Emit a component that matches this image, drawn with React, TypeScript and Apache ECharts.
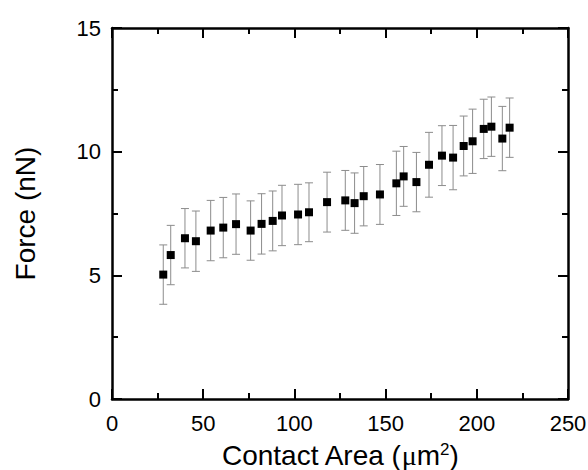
import React, { useEffect, useRef } from "react";
import * as echarts from "echarts";

const contactArea = [28.1, 32.2, 40.0, 46.0, 54.1, 61.0, 68.0, 76.0, 82.0, 88.1, 93.2, 102.0, 108.0, 117.9, 127.9, 133.0, 138.0, 146.9, 155.9, 159.9, 166.9, 173.8, 180.9, 187.0, 192.8, 197.7, 203.8, 208.0, 214.0, 218.0];
const force = [5.03, 5.82, 6.5, 6.38, 6.81, 6.93, 7.07, 6.81, 7.08, 7.2, 7.42, 7.46, 7.55, 7.96, 8.03, 7.92, 8.2, 8.27, 8.72, 9.0, 8.77, 9.47, 9.84, 9.76, 10.23, 10.42, 10.92, 11.01, 10.53, 10.97];
const forceError = [1.2, 1.2, 1.2, 1.22, 1.22, 1.22, 1.22, 1.2, 1.22, 1.21, 1.22, 1.22, 1.19, 1.21, 1.21, 1.22, 1.2, 1.21, 1.3, 1.21, 1.2, 1.31, 1.21, 1.3, 1.21, 1.3, 1.2, 1.2, 1.3, 1.2];

const FONT = "'Liberation Sans', Arial, sans-serif";

export default function App() {
  const ref = useRef<HTMLDivElement>(null);
  useEffect(() => {
    if (!ref.current) return;
    const chart = echarts.init(ref.current, null, { renderer: "svg" });
    const points = contactArea.map((x, i) => [x, force[i]]);
    const errData = contactArea.map((x, i) => [x, force[i], forceError[i]]);
    const axisLine = { show: true, onZero: false, lineStyle: { color: "#000", width: 2.5 } };
    const tick = { show: true, inside: true, length: 10, lineStyle: { color: "#000", width: 2 } };
    const minor = { show: true, splitNumber: 2, length: 6, lineStyle: { color: "#000", width: 2 } };
    chart.setOption({
      animation: false,
      backgroundColor: "#fff",
      grid: { left: 112, right: 20, top: 28, bottom: 71, containLabel: false, outerBoundsMode: "none" },
      xAxis: [
        {
          type: "value", min: 0, max: 250, interval: 50, position: "bottom",
          axisLine, axisTick: tick, minorTick: minor, splitLine: { show: false },
          axisLabel: { color: "#000", fontSize: 22, fontFamily: FONT, margin: 13 },
          name: "Contact Area ({mu|μ}m{sup|2})", nameLocation: "middle", nameGap: 42,
          nameTextStyle: {
            color: "#000", fontSize: 28, fontFamily: FONT, lineHeight: 28,
            rich: {
              mu: { color: "#000", fontSize: 28, lineHeight: 28, fontFamily: "'Liberation Serif', serif" },
              sup: { color: "#000", fontSize: 17, fontFamily: FONT, verticalAlign: "top", lineHeight: 15 },
            },
          },
        },
        {
          type: "value", min: 0, max: 250, interval: 50, position: "top",
          axisLine, axisTick: tick, minorTick: minor, splitLine: { show: false },
          axisLabel: { show: false },
        },
      ],
      yAxis: [
        {
          type: "value", min: 0, max: 15, interval: 5, position: "left",
          axisLine, axisTick: tick, minorTick: minor, splitLine: { show: false },
          axisLabel: { color: "#000", fontSize: 22, fontFamily: FONT, margin: 11 },
          name: "Force (nN)", nameLocation: "middle", nameGap: 73,
          nameTextStyle: { color: "#000", fontSize: 28, fontFamily: FONT },
        },
        {
          type: "value", min: 0, max: 15, interval: 5, position: "right",
          axisLine, axisTick: tick, minorTick: minor, splitLine: { show: false },
          axisLabel: { show: false },
        },
      ],
      series: [
        {
          type: "custom",
          xAxisIndex: 0, yAxisIndex: 0,
          data: errData,
          renderItem: (params: any, api: any) => {
            const x = api.value(0);
            const y = api.value(1);
            const e = api.value(2);
            const top = api.coord([x, y + e]);
            const bot = api.coord([x, y - e]);
            const style = { stroke: "#8c8c8c", lineWidth: 1, fill: null };
            const hw = 4;
            return {
              type: "group",
              children: [
                { type: "line", shape: { x1: top[0], y1: top[1], x2: bot[0], y2: bot[1] }, style },
                { type: "line", shape: { x1: top[0] - hw, y1: top[1], x2: top[0] + hw, y2: top[1] }, style },
                { type: "line", shape: { x1: bot[0] - hw, y1: bot[1], x2: bot[0] + hw, y2: bot[1] }, style },
              ],
            };
          },
          z: 1,
        },
        {
          type: "scatter",
          xAxisIndex: 0, yAxisIndex: 0,
          data: points,
          symbol: "rect",
          symbolSize: 8,
          itemStyle: { color: "#000", opacity: 1 },
          z: 2,
        },
      ],
    });
    return () => chart.dispose();
  }, []);
  return <div ref={ref} style={{ position: "absolute", left: 0, top: 0, width: 588, height: 470 }} />;
}
